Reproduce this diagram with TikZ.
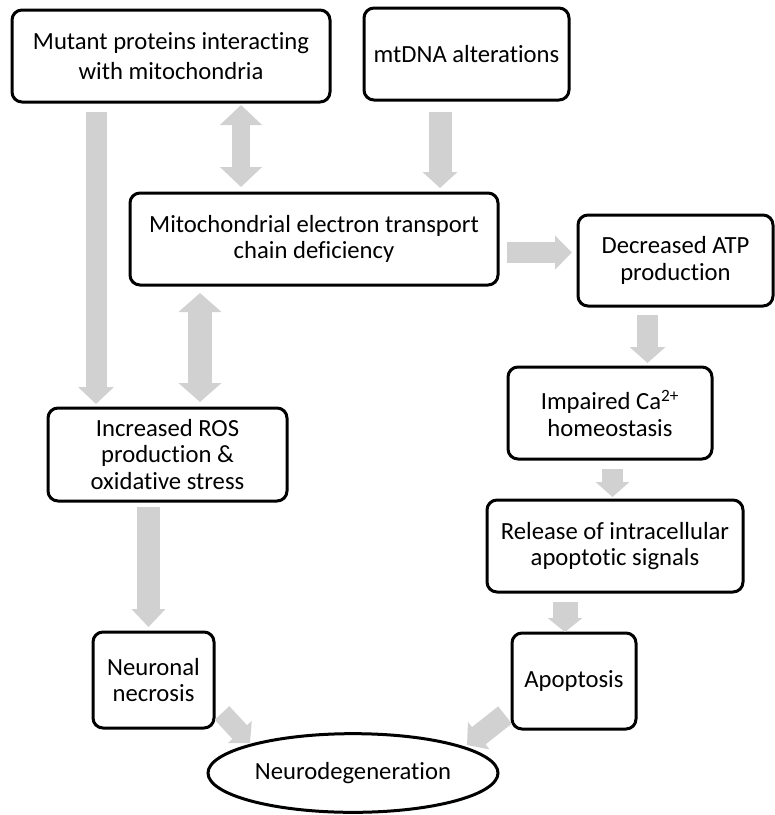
\documentclass[tikz,border=0pt]{standalone}
\usepackage{fontspec}
\setmainfont{Carlito}[Ligatures=CommonOff]
\usetikzlibrary{arrows.meta,calc,shapes.geometric}
\definecolor{gfill}{gray}{0.82}
\begin{document}
\begin{tikzpicture}[x=0.75pt,y=-0.75pt,
  box/.style n args={2}{draw, rounded corners=7.5pt, line width=2.25pt, inner sep=0pt, outer sep=0pt,
    minimum width=#1pt, minimum height=#2pt,
    align=center, font=\fontsize{18.5}{20}\selectfont},
  garrow/.style n args={3}{draw=gfill, line width=#1pt, -{Triangle[length=#2pt,width=#3pt]}},
  gdouble/.style n args={3}{draw=gfill, line width=#1pt, {Triangle[length=#2pt,width=#3pt]}-{Triangle[length=#2pt,width=#3pt]}}]
\useasboundingbox (0,0) rectangle (775,815);
% boxes
\node[box={238.5}{69}, font=\fontsize{18.5}{23}\selectfont] (mutant) at (171,56) {Mutant proteins interacting\\with mitochondria};
\node[box={153.75}{69}] (mtdna) at (466.5,54) {mtDNA alterations};
\node[box={276}{69}] (mito) at (314,239) {Mitochondrial electron transport\\chain deficiency};
\node[box={146.25}{68.25}] (atp) at (675.5,260.5) {Decreased ATP\\production};
\node[box={153}{69}] (ca) at (610,413) {Impaired Ca\textsuperscript{2+}\\homeostasis};
\node[box={179.25}{69.75}] (ros) at (167.5,454.5) {Increased ROS\\production \&\\oxidative stress};
\node[box={192}{69}] (rel) at (615,546) {Release of intracellular\\apoptotic signals};
\node[box={90.75}{72}] (nec) at (153.5,680) {Neuronal\\necrosis};
\node[box={93}{72}] (apo) at (574,681) {Apoptosis};
\node[draw, ellipse, line width=2.25pt, inner sep=0pt, outer sep=0pt,
  minimum width=217.5pt, minimum height=59pt, font=\fontsize{18.5}{20}\selectfont] (neuro) at (353,773) {Neurodegeneration};
% arrows
\draw[garrow={15.75}{12.75}{26.25}, shorten <=7.5pt, shorten >=3pt] (mutant.south -| 96,0) -- (ros.north -| 96,0);
\draw[gdouble={13.5}{15}{30.75}, shorten <=2.25pt, shorten >=4.5pt] (mutant.south -| 241,0) -- (mito.north -| 241,0);
\draw[gdouble={18}{14.25}{31.5}, shorten <=6pt, shorten >=4.5pt] (mito.south -| 200,0) -- (ros.north -| 200,0);
\draw[garrow={17.25}{12}{25.5}, shorten <=9pt, shorten >=3.75pt] (mtdna.south -| 440,0) -- (mito.north -| 440,0);
\draw[garrow={15.75}{12.75}{24.75}, shorten <=6.75pt, shorten >=4.5pt] (mito.east |- 0,252.5) -- (atp.west |- 0,252.5);
\draw[garrow={15.75}{12}{26.25}, shorten <=6.75pt, shorten >=3pt] (atp.south -| 647.5,0) -- (ca.north -| 647.5,0);
\draw[garrow={15.75}{11.25}{24.75}, shorten <=7.5pt, shorten >=2.25pt] (ca.south -| 612.5,0) -- (rel.north -| 612.5,0);
\draw[garrow={18.75}{10.5}{25.5}, shorten <=7.5pt, shorten >=0.75pt] (rel.south -| 565,0) -- (apo.north -| 565,0);
\draw[garrow={17.25}{13.5}{24.75}, shorten <=4.5pt, shorten >=3.75pt] (ros.south -| 148.5,0) -- (nec.north -| 148.5,0);
\draw[garrow={15}{11.25}{24}] ($(nec.south east)+(8,-15)$) -- ($(neuro.center)+(-103,-30)$);
\draw[garrow={16.5}{11.25}{25.5}] ($(apo.south west)+(-7,-14)$) -- ($(neuro.center)+(114,-28)$);
\end{tikzpicture}
\end{document}
